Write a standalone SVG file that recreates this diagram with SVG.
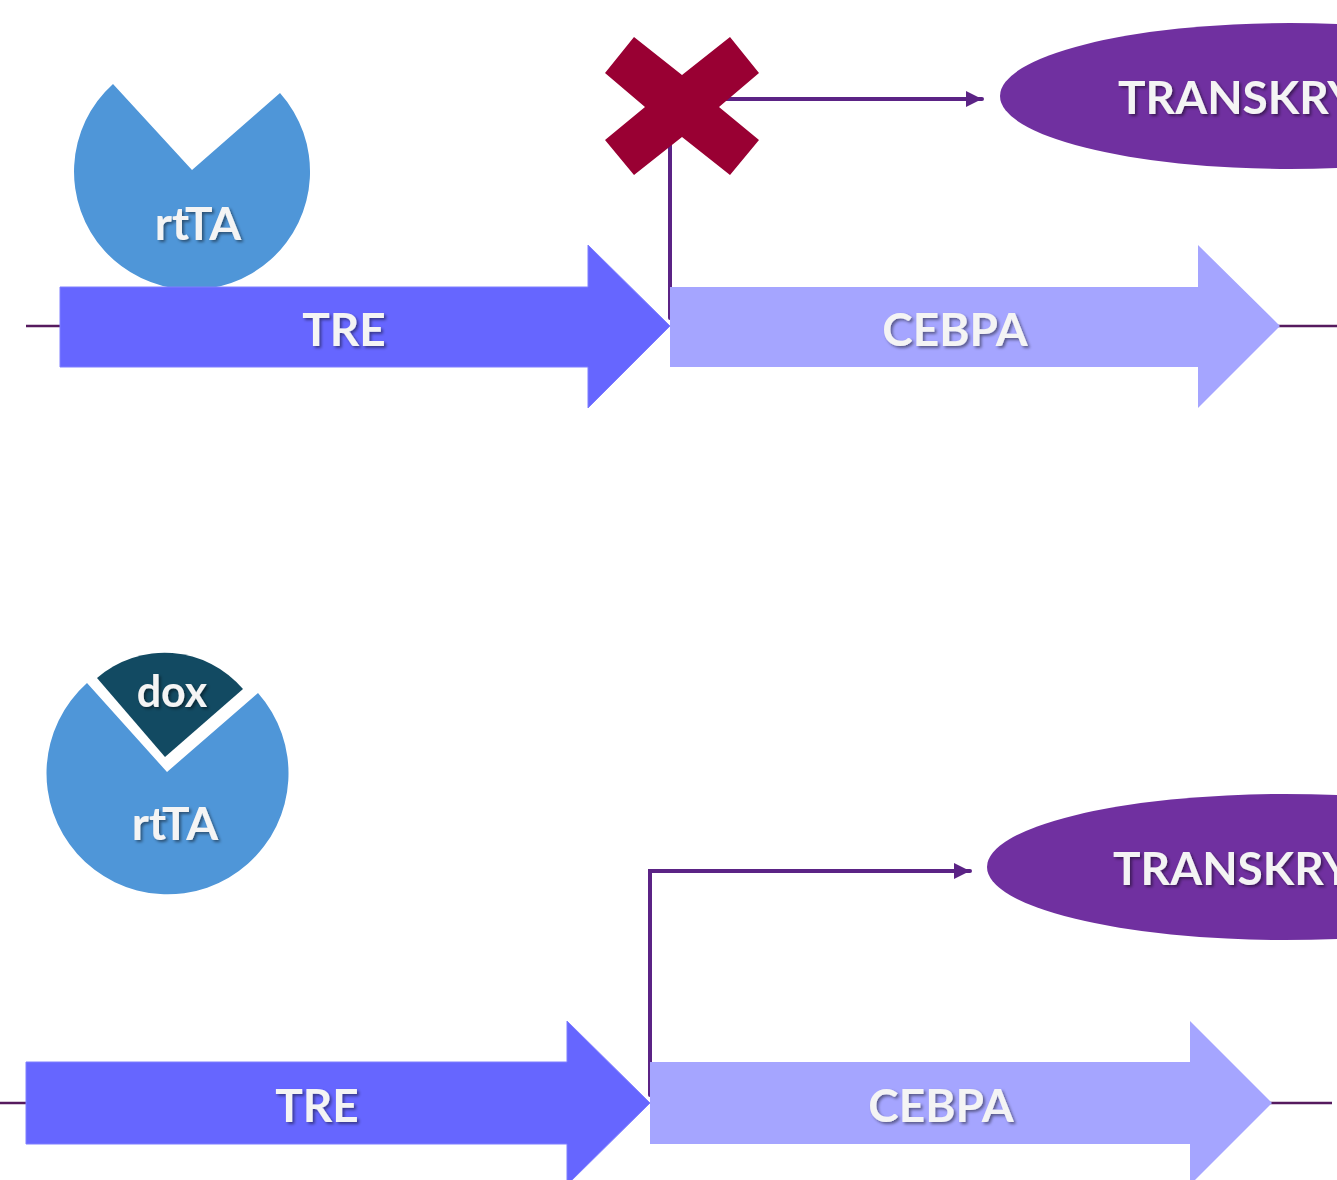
<svg xmlns="http://www.w3.org/2000/svg" width="1337" height="1180" viewBox="0 0 1337 1180">
<defs>
<style>
.lbl{font-family:"Lato","Open Sans",sans-serif;font-weight:bold;fill:#f4f4f4;text-anchor:middle;filter:url(#sh)}
.tre{fill:#6666ff;stroke:#7f7fff;stroke-width:1}
.ceb{fill:#a5a5ff}
.rt{fill:#4f96d8}
.dna{stroke:#561a5e;stroke-width:2.5;fill:none}
.ell{fill:#7030a0}
.conn{stroke:#5b2385;stroke-width:4;fill:none;stroke-linecap:round;stroke-linejoin:miter}
</style>
<filter id="sh" x="-10%" y="-20%" width="130%" height="150%">
<feDropShadow dx="2" dy="2" stdDeviation="1.5" flood-color="#000" flood-opacity="0.45"/>
</filter>
<marker id="ah" markerUnits="userSpaceOnUse" markerWidth="17" markerHeight="16" refX="16" refY="8" orient="auto">
<path d="M0,0 L16,8 L0,16 Z" fill="#5b2385"/>
</marker>
</defs>
<rect width="1337" height="1180" fill="#ffffff"/>

<g id="dna-lines">
<line class="dna" x1="26" y1="326" x2="62" y2="326"/>
<line class="dna" x1="1278" y1="326" x2="1337" y2="326"/>
<line class="dna" x1="0" y1="1103" x2="28" y2="1103"/>
<line class="dna" x1="1270" y1="1103" x2="1332" y2="1103"/>
</g>

<g id="connectors">
<path class="conn" d="M670,318 V99 H982" marker-end="url(#ah)"/>
<path class="conn" d="M650,1095 V871 H970" marker-end="url(#ah)"/>
</g>

<g id="rtTA-top">
<path class="rt" d="M113,84 L192,170 L280,93 A118,118 0 1 1 113,84 Z"/>
<text class="lbl" x="198" y="240" font-size="46">rtTA</text>
</g>

<g id="TRE-top">
<path class="tre" d="M60,287 H588 V245 L670,326 L588,408 V367 H60 Z"/>
<text class="lbl" x="344" y="346" font-size="46">TRE</text>
</g>

<g id="CEBPA-top">
<path class="ceb" d="M670,287 H1198 V245 L1280,326 L1198,408 V367 H670 Z"/>
<text class="lbl" x="955" y="346" font-size="46">CEBPA</text>
</g>

<g id="block-x">
<polygon fill="#990033" points="634,37 682,75 730,37 759,73 719,107 759,140 730,175 682,137 634,175 605,140 645,107 605,73"/>
</g>

<g id="transkrypcja-top">
<ellipse class="ell" cx="1290" cy="96" rx="290" ry="73"/>
<text class="lbl" x="1118" y="114" font-size="46" style="text-anchor:start">TRANSKRYPCJA</text>
</g>

<g id="rtTA-dox">
<path class="rt" d="M87,683 L167,772 L258,693 A121,121 0 1 1 87,683 Z"/>
<path fill="#124a62" d="M165,757 L97,678 A103,103 0 0 1 243,689 Z"/>
<text class="lbl" x="172" y="707" font-size="43">dox</text>
<text class="lbl" x="175" y="840" font-size="46">rtTA</text>
</g>

<g id="TRE-bottom">
<path class="tre" d="M26,1062 H567 V1021 L650,1103 L567,1185 V1144 H26 Z"/>
<text class="lbl" x="317" y="1122" font-size="46">TRE</text>
</g>

<g id="CEBPA-bottom">
<path class="ceb" d="M650,1062 H1190 V1021 L1272,1103 L1190,1185 V1144 H650 Z"/>
<text class="lbl" x="941" y="1122" font-size="46">CEBPA</text>
</g>

<g id="transkrypcja-bottom">
<ellipse class="ell" cx="1285" cy="867" rx="298" ry="73"/>
<text class="lbl" x="1113" y="885" font-size="46" style="text-anchor:start">TRANSKRYPCJA</text>
</g>
</svg>
